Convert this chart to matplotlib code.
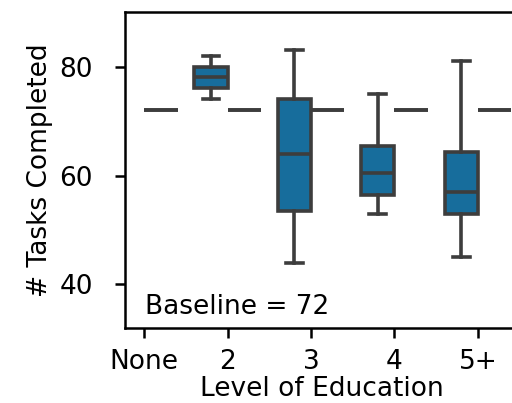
import numpy as np
import matplotlib
matplotlib.use('Agg')
import matplotlib.pyplot as plt

# 教育水平分组
levels = ['None', '2', '3', '4', '5+']
# 各组完成任务数的箱线统计（None 组没有模型数据）
whis_lo = [None, 74, 44, 53, 45]
q1 = [None, 76, 53.5, 56.5, 53]
median = [None, 78, 64, 60.5, 57]
q3 = [None, 80, 74, 65.5, 64.3]
whis_hi = [None, 82, 83, 75, 81]
# 基线
baseline = 72

BOX_COLOR = '#176d9c'
LINE_COLOR = '#3d3d3d'
FS = 19


def make_stats():
    stats, pos = [], []
    for i in range(len(levels)):
        if median[i] is None:
            continue
        stats.append(dict(whislo=whis_lo[i], q1=q1[i], med=median[i],
                          q3=q3[i], whishi=whis_hi[i], fliers=[]))
        pos.append(i - 0.2)
    return stats, pos


def plot_tasks_by_education():
    plt.rcParams['font.family'] = 'DejaVu Sans'
    fig = plt.figure(figsize=(5.12, 4.03), dpi=100)
    ax = fig.add_axes([0.244, 0.186, 0.771, 0.784])

    line_kw = dict(color=LINE_COLOR, linewidth=2.6)
    stats, pos = make_stats()
    ax.bxp(stats, positions=pos, widths=0.4, patch_artist=True, showfliers=False,
           boxprops=dict(facecolor=BOX_COLOR, edgecolor=LINE_COLOR, linewidth=2.6),
           whiskerprops=line_kw, capprops=line_kw, medianprops=line_kw,
           manage_ticks=False)

    # 基线组：所有值都等于基线，箱体退化为一条线
    base_stats = [dict(whislo=baseline, q1=baseline, med=baseline, q3=baseline,
                       whishi=baseline, fliers=[]) for _ in levels]
    ax.bxp(base_stats, positions=[i + 0.2 for i in range(len(levels))], widths=0.4,
           patch_artist=True, showfliers=False, showcaps=False,
           boxprops=dict(facecolor=BOX_COLOR, edgecolor=LINE_COLOR, linewidth=2.6),
           whiskerprops=line_kw, medianprops=line_kw, manage_ticks=False)

    ax.set_xlim(-0.23, 4.5)
    ax.set_ylim(32, 90)
    ax.set_xticks(range(len(levels)))
    ax.set_xticklabels(levels)
    ax.set_yticks([40, 60, 80])

    for s in ax.spines.values():
        s.set_linewidth(1.8)
    ax.tick_params(axis='both', labelsize=FS, width=1.8, length=7)
    ax.tick_params(axis='x', pad=8)
    ax.tick_params(axis='y', pad=16)

    ax.set_xlabel('Level of Education', fontsize=FS, labelpad=1)
    ax.set_ylabel('# Tasks Completed', fontsize=FS, labelpad=5)
    ax.text(0.05, 0.045, 'Baseline = %d' % baseline, transform=ax.transAxes,
            fontsize=FS, va='baseline')

    fig.savefig('out.png', dpi=100)


if __name__ == '__main__':
    plot_tasks_by_education()
